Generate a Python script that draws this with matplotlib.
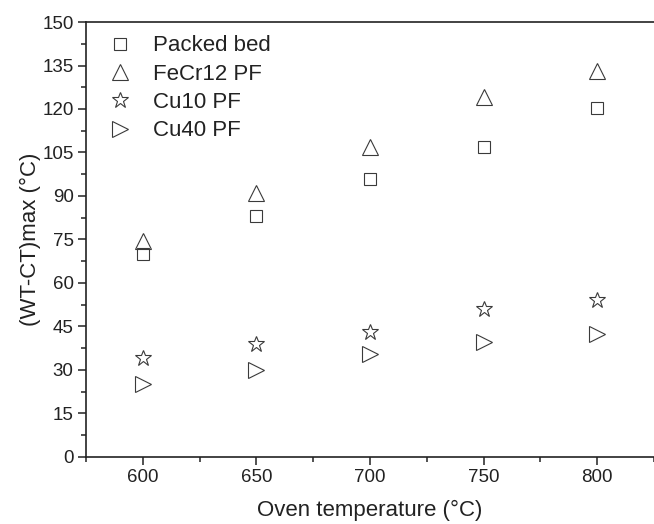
import numpy as np
import matplotlib.pyplot as plt
from matplotlib.ticker import MultipleLocator

plt.rcParams['font.family'] = ['Liberation Sans', 'DejaVu Sans']

# oven temperature (°C)
oven_temp = [600, 650, 700, 750, 800]

# maximum wall-centre temperature difference (°C)
packed_bed = [70, 83, 96, 107, 120.5]
fecr12_pf = [74.5, 91, 107, 124, 133]
cu10_pf = [34, 39, 43, 51, 54]
cu40_pf = [25, 30, 35.5, 39.5, 42.5]

series = [
    ('Packed bed', packed_bed, 's', 8.5),
    ('FeCr12 PF', fecr12_pf, '^', 11),
    ('Cu10 PF', cu10_pf, '*', 12),
    ('Cu40 PF', cu40_pf, '>', 11),
]

fig = plt.figure(figsize=(6.54, 5.24), dpi=100)
ax = fig.add_axes([0.1315, 0.128, 0.8685, 0.83])

edge = '#3a3a3a'
for name, vals, mk, ms in series:
    ax.plot(oven_temp, vals, linestyle='none', marker=mk, markersize=ms,
            markerfacecolor='none', markeredgecolor=edge, markeredgewidth=0.8,
            label=name)

ax.set_xlim(575, 825)
ax.set_ylim(0, 150)
ax.xaxis.set_major_locator(MultipleLocator(50))
ax.xaxis.set_minor_locator(MultipleLocator(25))
ax.yaxis.set_major_locator(MultipleLocator(15))
ax.yaxis.set_minor_locator(MultipleLocator(7.5))

ax.spines['right'].set_visible(False)
for s in ('left', 'bottom', 'top'):
    ax.spines[s].set_linewidth(1.2)
    ax.spines[s].set_color('#222222')

ax.tick_params(which='major', direction='out', length=6, width=1.1,
               color='#222222', labelsize=13.5, labelcolor='#222222', pad=3)
ax.tick_params(which='minor', direction='out', length=3.5, width=1.1,
               color='#222222')
ax.tick_params(which='both', top=False, right=False)

ax.set_xlabel('Oven temperature (°C)', fontsize=16, color='#222222', labelpad=10)
ax.set_ylabel('(WT-CT)max (°C)', fontsize=16, color='#222222', labelpad=1)

leg = ax.legend(loc='upper left', bbox_to_anchor=(0.02, 0.995), frameon=False,
                fontsize=16, handlelength=1.0, handletextpad=1.0,
                labelspacing=0.33, borderaxespad=0.3, borderpad=0.2)
for t in leg.get_texts():
    t.set_color('#222222')

fig.savefig('out.png', dpi=100)
